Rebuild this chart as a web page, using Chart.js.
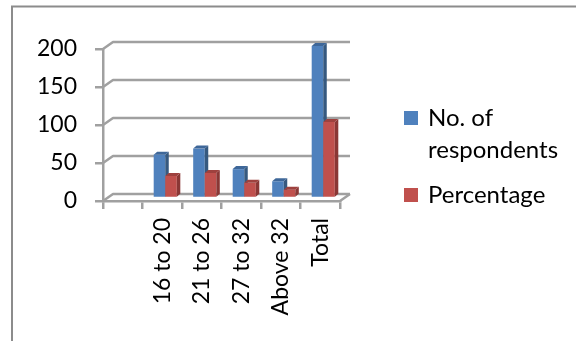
<!DOCTYPE html>
<html>
<head>
<meta charset="utf-8">
<script src="https://cdn.jsdelivr.net/npm/chart.js@4"></script>
<style>
  html, body { margin: 0; padding: 0; background: #fff; overflow: hidden; }
  canvas { display: block; }
</style>
</head>
<body>
<canvas id="ageChart" width="576" height="341"></canvas>
<script>
// data
const ageGroups = ['', '16 to 20', '21 to 26', '27 to 32', 'Above 32', 'Total'];
const respondents = [null, 57, 65, 38, 22, 200];
const percentage = [null, 29, 33, 20, 11, 100];
const yTicks = [0, 50, 100, 150, 200];
const legendText = [['No. of', 'respondents'], ['Percentage']];

const FONT = 'Lato';
const FONT_SIZE = 23;
const GRID = '#a0a0a0';
const faces = [
    { front: '#4f81bd', side: '#36597f', top: '#3e6799' },
    { front: '#c0504d', side: '#8a3735', top: '#9e413e' }
];
// 3D wall depth and bar depth
const WALL = { dx: 10, dy: -7 };
const BAR = { dx: 3.5, dy: -3, ox: 3, oy: -3 };

const fake3d = {
    id: 'fake3d',
    beforeDatasetsDraw(chart) {
        const { ctx, chartArea: a, scales } = chart;
        const y = scales.y;
        ctx.save();
        ctx.strokeStyle = GRID;
        ctx.lineWidth = 2.5;
        ctx.lineJoin = 'round';
        // back wall gridlines with the little diagonals to the front axis
        yTicks.forEach(v => {
            const py = y.getPixelForValue(v);
            ctx.beginPath();
            ctx.moveTo(a.left, py);
            ctx.lineTo(a.left + WALL.dx, py + WALL.dy);
            ctx.lineTo(a.right + WALL.dx, py + WALL.dy);
            ctx.stroke();
        });
        // right edge of the floor
        ctx.beginPath();
        ctx.moveTo(a.right, a.bottom);
        ctx.lineTo(a.right + WALL.dx, a.bottom + WALL.dy);
        ctx.stroke();
        ctx.restore();

        // bars as boxes, blue first so red sits in front of blue's side
        chart.data.datasets.forEach((ds, d) => {
            const meta = chart.getDatasetMeta(d);
            const c = faces[d];
            meta.data.forEach((el, i) => {
                if (ds.data[i] == null) return;
                const p = el.getProps(['x', 'y', 'base', 'width'], true);
                const l = p.x - p.width / 2 + BAR.ox;
                const r = p.x + p.width / 2 + BAR.ox;
                const t = p.y + BAR.oy;
                const b = p.base + BAR.oy;
                ctx.save();
                ctx.fillStyle = c.front;
                ctx.fillRect(l, t, r - l, b - t);
                ctx.fillStyle = c.side;
                ctx.beginPath();
                ctx.moveTo(r, t);
                ctx.lineTo(r + BAR.dx, t + BAR.dy);
                ctx.lineTo(r + BAR.dx, b + BAR.dy);
                ctx.lineTo(r, b);
                ctx.closePath();
                ctx.fill();
                ctx.fillStyle = c.top;
                ctx.beginPath();
                ctx.moveTo(l, t);
                ctx.lineTo(l + BAR.dx, t + BAR.dy);
                ctx.lineTo(r + BAR.dx, t + BAR.dy);
                ctx.lineTo(r, t);
                ctx.closePath();
                ctx.fill();
                ctx.restore();
            });
        });
        return false;
    },
    afterDraw(chart) {
        const ctx = chart.ctx;
        ctx.save();
        // outer frame of the picture
        ctx.strokeStyle = '#8c8c8c';
        ctx.lineWidth = 2;
        ctx.strokeRect(12, 6.5, 700, 500);
        // legend
        ctx.font = '24px ' + FONT;
        ctx.textBaseline = 'middle';
        const rows = [118, 195];
        legendText.forEach((lines, d) => {
            ctx.fillStyle = faces[d].front;
            ctx.fillRect(404, rows[d] - 7, 14, 14);
            ctx.fillStyle = '#000';
            lines.forEach((s, k) => ctx.fillText(s, 428, rows[d] + k * 32));
        });
        ctx.restore();
    }
};

new Chart(document.getElementById('ageChart'), {
    type: 'bar',
    data: {
        labels: ageGroups,
        datasets: [
            { label: legendText[0].join(' '), data: respondents, backgroundColor: faces[0].front },
            { label: legendText[1].join(' '), data: percentage, backgroundColor: faces[1].front }
        ]
    },
    options: {
        responsive: false,
        devicePixelRatio: 1,
        animation: false,
        categoryPercentage: 0.585,
        barPercentage: 1,
        layout: { padding: { top: 49, right: 236, left: 0, bottom: 0 } },
        plugins: {
            legend: { display: false },
            tooltip: { enabled: false }
        },
        scales: {
            x: {
                afterFit(s) { s.height = 140; },
                border: { display: true, color: GRID, width: 2.5 },
                grid: { offset: true, drawOnChartArea: false, drawTicks: true, tickLength: 8, color: GRID, lineWidth: 2.5 },
                ticks: {
                    minRotation: 90, maxRotation: 90, padding: 9, autoSkip: false,
                    color: '#000', font: { family: FONT, size: FONT_SIZE }
                }
            },
            y: {
                min: 0, max: 200,
                afterFit(s) { s.width = 103; },
                afterBuildTicks(s) { s.ticks = yTicks.map(v => ({ value: v })); },
                border: { display: true, color: GRID, width: 2.5 },
                grid: { drawOnChartArea: false, drawTicks: true, tickLength: 8, color: GRID, lineWidth: 2.5 },
                ticks: { padding: 18, color: '#000', font: { family: FONT, size: FONT_SIZE } }
            }
        }
    },
    plugins: [fake3d]
});
</script>
</body>
</html>
